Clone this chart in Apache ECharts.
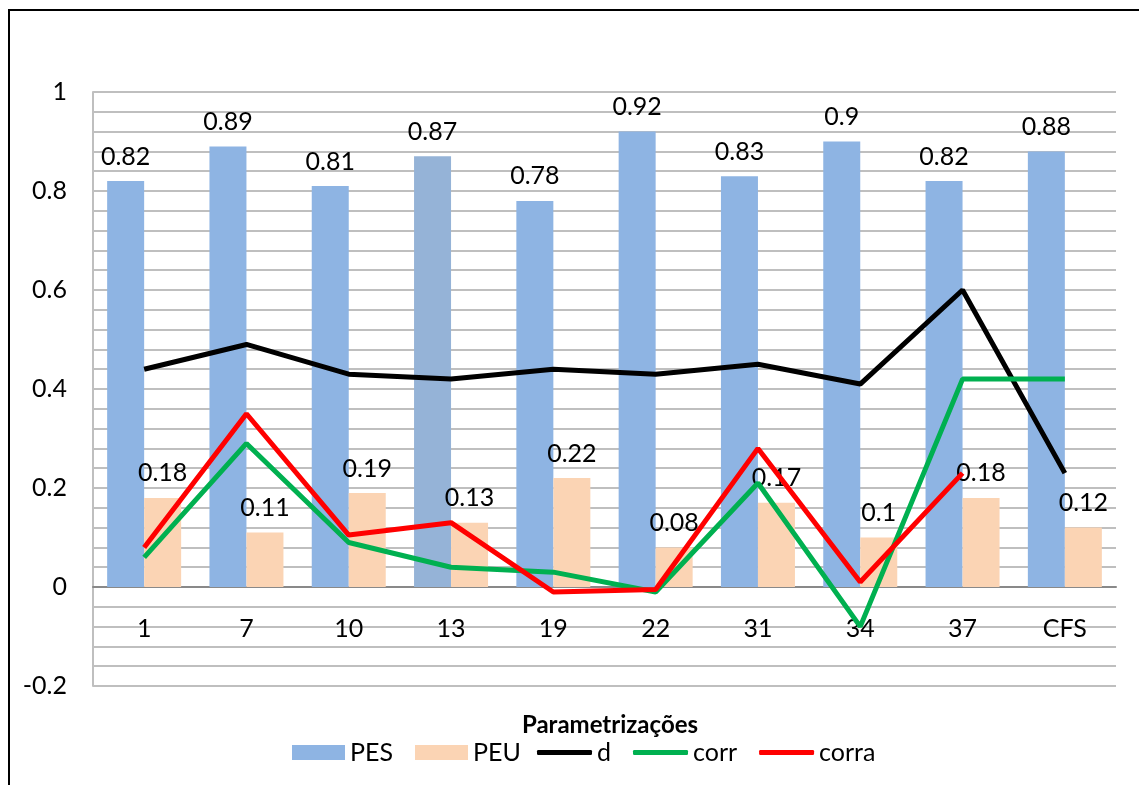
<!DOCTYPE html>
<html>
<head>
<meta charset="utf-8">
<script src="https://cdn.jsdelivr.net/npm/echarts@6/dist/echarts.min.js"></script>
<style>
  html, body { margin: 0; padding: 0; background: #fff; }
  #chart { width: 1139px; height: 785px; }
</style>
</head>
<body>
<div id="chart"></div>
<script>
// Categories (parametrizations) and series values
const categories = ['1', '7', '10', '13', '19', '22', '31', '34', '37', 'CFS'];
const pesValues = [0.82, 0.89, 0.81, 0.87, 0.78, 0.92, 0.83, 0.9, 0.82, 0.88];
const peuValues = [0.18, 0.11, 0.19, 0.13, 0.22, 0.08, 0.17, 0.1, 0.18, 0.12];
const dValues = [0.44, 0.49, 0.43, 0.42, 0.44, 0.43, 0.45, 0.41, 0.60, 0.23];
const corrValues = [0.06, 0.29, 0.09, 0.04, 0.03, -0.01, 0.21, -0.08, 0.42, 0.42];
const corraValues = [0.08, 0.35, 0.105, 0.13, -0.01, -0.005, 0.28, 0.01, 0.23, null];

const FONT = 'Lato, "Noto Sans", sans-serif';
const FS = 25;
const GRID_COLOR = '#BFBFBF';
const LINE_W = 5;

const pesData = pesValues.map((v, i) =>
  i === 3 ? { value: v, itemStyle: { color: '#95B3D7' } } : v);

const chart = echarts.init(document.getElementById('chart'), null, { renderer: 'canvas' });

const valueLabel = {
  show: true,
  position: 'top',
  distance: 12,
  color: '#000',
  fontFamily: FONT,
  fontSize: FS
};

const legendText = { fontFamily: FONT, fontSize: FS, color: '#000' };

chart.setOption({
  animation: false,
  backgroundColor: '#fff',
  textStyle: { fontFamily: FONT },
  graphic: [{
    type: 'rect',
    z: 100,
    shape: { x: 9, y: 10, width: 1400, height: 1000 },
    style: { fill: 'none', stroke: '#000', lineWidth: 2 }
  }],
  title: {
    text: 'Parametrizações',
    left: 605,
    top: 708,
    textAlign: 'center',
    textStyle: { fontFamily: FONT, fontWeight: 'bold', fontSize: 24, color: '#000' }
  },
  legend: [
    {
      left: 292,
      top: 740,
      padding: 0,
      itemWidth: 53,
      itemHeight: 15,
      itemGap: 22,
      textStyle: legendText,
      data: [{ name: 'PES', icon: 'rect' }, { name: 'PEU', icon: 'rect' }]
    },
    {
      left: 537,
      top: 740,
      padding: 0,
      itemWidth: 55,
      itemHeight: 5,
      itemGap: 22,
      textStyle: legendText,
      data: [
        { name: 'd', icon: 'roundRect' },
        { name: 'corr', icon: 'roundRect' },
        { name: 'corra', icon: 'roundRect' }
      ]
    }
  ],
  grid: { left: 93, right: 23, top: 92, bottom: 99, containLabel: false },
  xAxis: {
    type: 'category',
    data: categories,
    // the category axis sits on the zero line, with its labels just below it
    offset: -99,
    axisLine: { show: true, onZero: false, lineStyle: { color: '#898989', width: 2 } },
    axisTick: { show: false },
    axisLabel: { margin: 29, color: '#000', fontFamily: FONT, fontSize: FS },
    splitLine: { show: false }
  },
  yAxis: {
    type: 'value',
    min: -0.2,
    max: 1,
    interval: 0.2,
    axisLine: { show: true, lineStyle: { color: GRID_COLOR, width: 2 } },
    axisTick: { show: false },
    axisLabel: {
      margin: 26, color: '#000', fontFamily: FONT, fontSize: FS,
      formatter: v => String(Math.round(v * 10) / 10)
    },
    splitLine: { show: true, lineStyle: { color: GRID_COLOR, width: 2 } },
    minorTick: { show: false, splitNumber: 5 },
    minorSplitLine: { show: true, lineStyle: { color: GRID_COLOR, width: 2 } }
  },
  series: [
    {
      name: 'PES',
      type: 'bar',
      data: pesData,
      barWidth: 37,
      barGap: '0%',
      itemStyle: { color: '#8EB4E3' },
      label: valueLabel,
      z: 2
    },
    {
      name: 'PEU',
      type: 'bar',
      data: peuValues,
      barWidth: 37,
      barGap: '0%',
      itemStyle: { color: '#FBD4B4' },
      label: valueLabel,
      z: 2
    },
    {
      name: 'd',
      type: 'line',
      data: dValues,
      symbol: 'none',
      lineStyle: { color: '#000', width: LINE_W },
      itemStyle: { color: '#000' },
      z: 3
    },
    {
      name: 'corr',
      type: 'line',
      data: corrValues,
      symbol: 'none',
      lineStyle: { color: '#00B050', width: LINE_W },
      itemStyle: { color: '#00B050' },
      z: 4
    },
    {
      name: 'corra',
      type: 'line',
      data: corraValues,
      symbol: 'none',
      connectNulls: false,
      lineStyle: { color: '#FF0000', width: LINE_W },
      itemStyle: { color: '#FF0000' },
      z: 5
    }
  ]
});
</script>
</body>
</html>
